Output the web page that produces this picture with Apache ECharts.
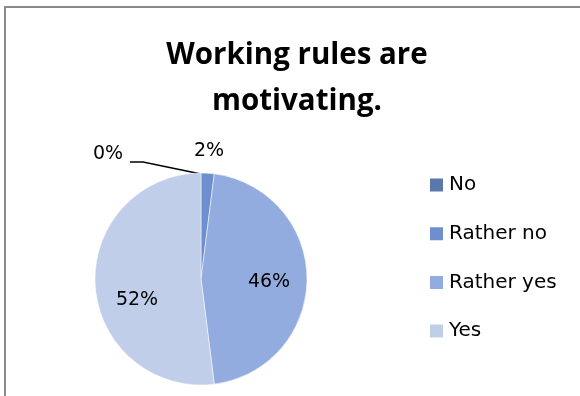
<!DOCTYPE html>
<html>
<head>
<meta charset="utf-8">
<script src="https://cdn.jsdelivr.net/npm/echarts@6/dist/echarts.min.js"></script>
<style>
  html, body { margin: 0; padding: 0; background: #fff; }
  #chart { width: 580px; height: 396px; }
</style>
</head>
<body>
<div id="chart"></div>
<script>
// Survey answers and their shares (percent)
var categories = ['No', 'Rather no', 'Rather yes', 'Yes'];
var shares = [0, 2, 46, 52];
var colors = ['#5a78ad', '#6e8fcd', '#93ace0', '#c0ceea'];

// Where each percentage label sits (the empty slice gets a leader line)
var labelSpots = [
  { x: 108, y: 154, line: [[201, 174], [143, 162], [130, 162]] },
  { x: 209, y: 151 },
  { x: 269, y: 282 },
  { x: 137, y: 300 }
];

var TITLE_FONT = '"Open Sans", "Liberation Sans", sans-serif';
var TEXT_FONT = '"DejaVu Sans", "Liberation Sans", sans-serif';

var chart = echarts.init(document.getElementById('chart'), null, { renderer: 'canvas' });

chart.setOption({
  backgroundColor: '#ffffff',
  animation: false,
  color: colors,
  title: {
    text: 'Working rules are\nmotivating.',
    left: 297,
    textAlign: 'center',
    top: 33,
    padding: 0,
    textStyle: {
      fontFamily: TITLE_FONT,
      fontWeight: 'bold',
      fontSize: 29.5,
      lineHeight: 46,
      color: '#000'
    }
  },
  legend: {
    orient: 'vertical',
    left: 428,
    top: 175,
    padding: 0,
    icon: 'rect',
    itemWidth: 15,
    itemHeight: 15,
    itemGap: 28.7,
    textStyle: {
      fontFamily: TEXT_FONT,
      fontSize: 20,
      lineHeight: 20,
      color: '#000'
    },
    data: categories
  },
  graphic: [{
    type: 'rect',
    shape: { x: 5, y: 7, width: 620, height: 420 },
    style: { fill: 'none', stroke: '#8a8a8a', lineWidth: 2 },
    silent: true
  }],
  series: [{
    type: 'pie',
    center: [201, 279],
    radius: 106,
    startAngle: 90,
    clockwise: true,
    avoidLabelOverlap: false,
    itemStyle: { borderColor: '#ffffff', borderWidth: 0.5 },
    label: {
      show: true,
      formatter: function (p) { return p.value + '%'; },
      fontFamily: TEXT_FONT,
      fontSize: 19,
      color: '#000'
    },
    labelLine: {
      show: true,
      lineStyle: { color: '#000', width: 1.5 }
    },
    labelLayout: function (params) {
      var s = labelSpots[params.dataIndex];
      var out = { x: s.x, y: s.y, align: 'center', verticalAlign: 'middle' };
      out.labelLinePoints = s.line || [[0, 0], [0, 0], [0, 0]];
      return out;
    },
    emphasis: { disabled: true },
    data: categories.map(function (name, i) {
      return { name: name, value: shares[i] };
    })
  }]
});
</script>
</body>
</html>
